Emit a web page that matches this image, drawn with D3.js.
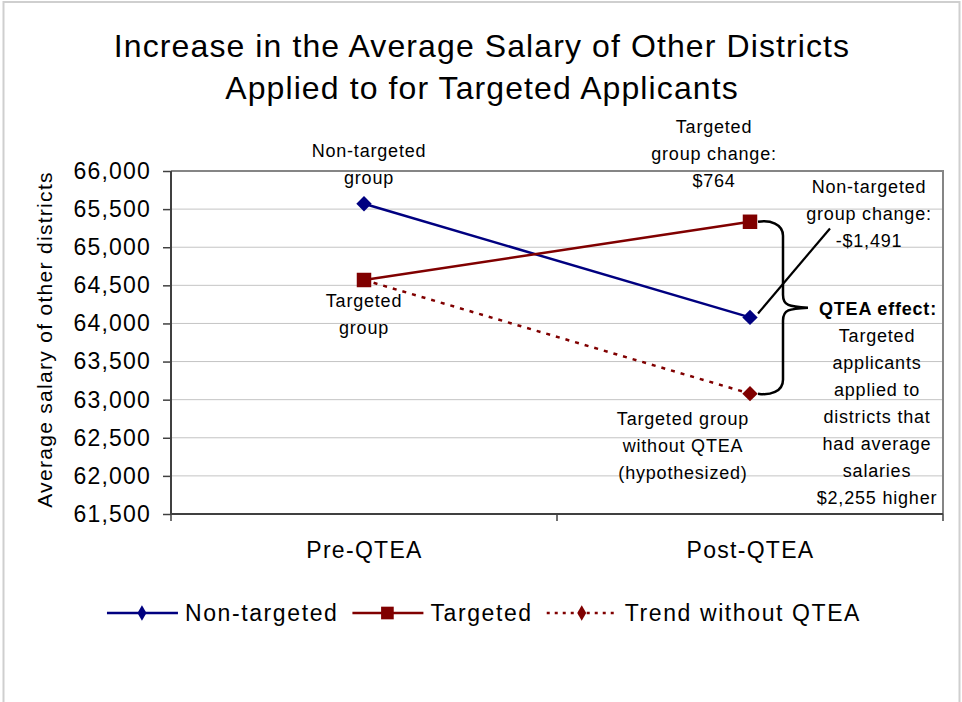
<!DOCTYPE html>
<html>
<head>
<meta charset="utf-8">
<script src="https://cdn.jsdelivr.net/npm/d3@7"></script>
<style>
    body { margin: 0; background: #fff; }
    svg text { font-family: "Liberation Sans", Arial, sans-serif; fill: #000; }
</style>
</head>
<body>
<div id="graph"></div>
<script>
// chart data
var categories = ["Pre-QTEA", "Post-QTEA"];
var nonTargeted = [65570, 64079];
var targeted = [64570, 65334];
var trendWithoutQTEA = [64570, 63079];
var yTickValues = [61500, 62000, 62500, 63000, 63500, 64000, 64500, 65000, 65500, 66000];
var seriesNames = ["Non-targeted", "Targeted", "Trend without QTEA"];

var titleLines = ["Increase in the Average Salary of Other Districts", "Applied to for Targeted Applicants"];
var yAxisTitle = "Average salary of other districts";
var nonTargetedLabel = ["Non-targeted", "group"];
var targetedLabel = ["Targeted", "group"];
var targetedChangeLabel = ["Targeted", "group change:", "$764"];
var nonTargetedChangeLabel = ["Non-targeted", "group change:", "-$1,491"];
var trendLabel = ["Targeted group", "without QTEA", "(hypothesized)"];
var effectHeading = "QTEA effect:";
var effectLines = ["Targeted", "applicants", "applied to", "districts that", "had average", "salaries", "$2,255 higher"];

var navy = "#000080";
var maroon = "#800000";

let svgWidth = 962;
let svgHeight = 702;
let plotLeft = 171, plotRight = 943, plotTop = 171, plotBottom = 514;
let annoSize = 18, annoSpacing = 0.8, lineStep = 27;

let xBand = d3.scaleBand()
    .domain(categories)
    .range([plotLeft, plotRight]);

let xScale = d3.scalePoint()
    .domain(categories)
    .range([plotLeft, plotRight])
    .padding(0.5);

let yScale = d3.scaleLinear()
    .domain([d3.min(yTickValues), d3.max(yTickValues)])
    .range([plotBottom, plotTop]);

let svg = d3.select("#graph")
    .append("svg")
    .attr("width", svgWidth)
    .attr("height", svgHeight);

// outer chart frame
svg.append("rect")
    .attr("x", 3.5).attr("y", 2)
    .attr("width", 956).attr("height", 720)
    .attr("fill", "none")
    .attr("stroke", "#cfcfcf")
    .attr("stroke-width", 2);

// title
svg.append("text")
    .attr("text-anchor", "middle")
    .attr("font-size", 32)
    .attr("letter-spacing", 1.1)
    .selectAll("tspan")
    .data(titleLines)
    .enter()
    .append("tspan")
    .attr("x", 482)
    .attr("y", (d, i) => 57 + i * 42)
    .text(d => d);

// gridlines
svg.append("g")
    .selectAll("line")
    .data(yTickValues.filter(d => d > yScale.domain()[0]))
    .enter()
    .append("line")
    .attr("x1", plotLeft).attr("x2", plotRight)
    .attr("y1", d => yScale(d)).attr("y2", d => yScale(d))
    .attr("stroke", "#c4c4c4")
    .attr("stroke-width", 1);

// plot border (top + right)
svg.append("path")
    .attr("d", "M" + plotLeft + "," + plotTop + "H" + plotRight + "V" + plotBottom)
    .attr("fill", "none")
    .attr("stroke", "#858585")
    .attr("stroke-width", 2);

// y axis
let yAxis = d3.axisLeft(yScale)
    .tickValues(yTickValues)
    .tickSize(8)
    .tickPadding(12)
    .tickFormat(d3.format(","));

let yg = svg.append("g")
    .attr("transform", "translate(" + plotLeft + ",0)")
    .call(yAxis);
yg.attr("font-family", null).attr("font-size", 23);
yg.select(".domain").remove();
yg.selectAll(".tick line").attr("stroke", "#404040").attr("stroke-width", 1.5);
yg.selectAll(".tick text").attr("letter-spacing", 1.2).attr("fill", "#000");

// x axis labels
let xAxis = d3.axisBottom(xScale)
    .tickSize(0)
    .tickPadding(28);

let xg = svg.append("g")
    .attr("transform", "translate(0," + plotBottom + ")")
    .call(xAxis);
xg.attr("font-family", null).attr("font-size", 23);
xg.select(".domain").remove();
xg.selectAll(".tick text").attr("letter-spacing", 1.3).attr("fill", "#000");

// category boundary ticks
let bounds = categories.map(c => xBand(c)).concat([xBand.range()[1]]);
svg.append("g")
    .selectAll("line")
    .data(bounds)
    .enter()
    .append("line")
    .attr("x1", d => d).attr("x2", d => d)
    .attr("y1", plotBottom).attr("y2", plotBottom + 7)
    .attr("stroke", "#404040")
    .attr("stroke-width", 1.5);

// axis lines
svg.append("path")
    .attr("d", "M" + plotLeft + "," + plotTop + "V" + plotBottom + "H" + plotRight)
    .attr("fill", "none")
    .attr("stroke", "#404040")
    .attr("stroke-width", 2);

// y axis title
svg.append("text")
    .attr("transform", "translate(52," + ((plotTop + plotBottom) / 2 - 3) + ") rotate(-90)")
    .attr("text-anchor", "middle")
    .attr("font-size", 21)
    .attr("letter-spacing", 1.3)
    .text(yAxisTitle);

// series lines
let line = d3.line()
    .x((d, i) => xScale(categories[i]))
    .y(d => yScale(d));

svg.append("path")
    .datum(trendWithoutQTEA)
    .attr("d", line)
    .attr("fill", "none")
    .attr("stroke", maroon)
    .attr("stroke-width", 2.5)
    .attr("stroke-dasharray", "4,6");

svg.append("path")
    .datum(nonTargeted)
    .attr("d", line)
    .attr("fill", "none")
    .attr("stroke", navy)
    .attr("stroke-width", 2.5);

svg.append("path")
    .datum(targeted)
    .attr("d", line)
    .attr("fill", "none")
    .attr("stroke", maroon)
    .attr("stroke-width", 2.5);

// markers
let diamond = d3.symbol().type(d3.symbolSquare).size(118);
let square = d3.symbol().type(d3.symbolSquare).size(210);

svg.append("g")
    .selectAll("path")
    .data(trendWithoutQTEA.slice(1))
    .enter()
    .append("path")
    .attr("d", diamond)
    .attr("transform", d => "translate(" + xScale(categories[1]) + "," + yScale(d) + ") rotate(45)")
    .attr("fill", maroon);

svg.append("g")
    .selectAll("path")
    .data(nonTargeted)
    .enter()
    .append("path")
    .attr("d", diamond)
    .attr("transform", (d, i) => "translate(" + xScale(categories[i]) + "," + yScale(d) + ") rotate(45)")
    .attr("fill", navy);

svg.append("g")
    .selectAll("path")
    .data(targeted)
    .enter()
    .append("path")
    .attr("d", square)
    .attr("transform", (d, i) => "translate(" + xScale(categories[i]) + "," + yScale(d) + ")")
    .attr("fill", maroon);

// annotation helper
function addLabel(lines, x, y, bold) {
    let t = svg.append("text")
        .attr("text-anchor", "middle")
        .attr("font-size", annoSize)
        .attr("letter-spacing", annoSpacing)
        .attr("font-weight", bold ? "bold" : null);
    t.selectAll("tspan")
        .data(lines)
        .enter()
        .append("tspan")
        .attr("x", x)
        .attr("y", (d, i) => y + i * lineStep)
        .text(d => d);
}

let preX = xScale(categories[0]);
let postX = xScale(categories[1]);

addLabel(nonTargetedLabel, preX + 5, yScale(nonTargeted[0]) - 47);
addLabel(targetedLabel, preX, yScale(targeted[0]) + 27);
addLabel(targetedChangeLabel, postX - 36, 133);
addLabel(nonTargetedChangeLabel, postX + 119, 193);
addLabel(trendLabel, postX - 67, yScale(trendWithoutQTEA[1]) + 31);

let braceTop = yScale(targeted[1]);
let braceBot = yScale(trendWithoutQTEA[1]);
let braceMid = (braceTop + braceBot) / 2;

addLabel([effectHeading], postX + 128, braceMid + 7, true);
addLabel(effectLines, postX + 127, braceMid + 34);

// leader line to non-targeted change label
svg.append("line")
    .attr("x1", postX + 8).attr("y1", yScale(nonTargeted[1]) - 4)
    .attr("x2", postX + 80).attr("y2", yScale(nonTargeted[1]) - 89)
    .attr("stroke", "#000")
    .attr("stroke-width", 2.2);

// curly brace between targeted and trend
let bx0 = postX + 8, bx = postX + 33, bt = postX + 58;
let brace = "M" + bx0 + "," + braceTop +
    "C" + (bx0 + 12) + "," + (braceTop - 2) + " " + bx + "," + (braceTop + 2) + " " + bx + "," + (braceTop + 14) +
    "L" + bx + "," + (braceMid - 13) +
    "C" + bx + "," + (braceMid - 2) + " " + (bx + 6) + "," + (braceMid - 1) + " " + bt + "," + braceMid +
    "M" + bx0 + "," + braceBot +
    "C" + (bx0 + 12) + "," + (braceBot + 2) + " " + bx + "," + (braceBot - 2) + " " + bx + "," + (braceBot - 14) +
    "L" + bx + "," + (braceMid + 13) +
    "C" + bx + "," + (braceMid + 2) + " " + (bx + 6) + "," + (braceMid + 1) + " " + bt + "," + braceMid;

svg.append("path")
    .attr("d", brace)
    .attr("fill", "none")
    .attr("stroke", "#000")
    .attr("stroke-width", 2.5);

// legend
let legendY = 613;
let legendStyles = [
    { color: navy, dash: null, sym: d3.symbol().type(d3.symbolDiamond).size(70) },
    { color: maroon, dash: null, sym: d3.symbol().type(d3.symbolSquare).size(160) },
    { color: maroon, dash: "3,5", sym: d3.symbol().type(d3.symbolDiamond).size(70) }
];

let legend = svg.append("g");
let cursor = 0;
seriesNames.forEach((name, i) => {
    let st = legendStyles[i];
    let item = legend.append("g").attr("transform", "translate(" + cursor + ",0)");
    item.append("line")
        .attr("x1", 0).attr("x2", 71)
        .attr("y1", legendY).attr("y2", legendY)
        .attr("stroke", st.color)
        .attr("stroke-width", 2.5)
        .attr("stroke-dasharray", st.dash);
    item.append("path")
        .attr("d", st.sym)
        .attr("transform", "translate(35," + legendY + ")")
        .attr("fill", st.color);
    let txt = item.append("text")
        .attr("x", 78)
        .attr("y", legendY + 8)
        .attr("font-size", 23)
        .attr("letter-spacing", 1.6)
        .text(name);
    cursor += 78 + txt.node().getComputedTextLength() + 14;
});
legend.attr("transform", "translate(" + (484 - (cursor - 14) / 2) + ",0)");
</script>
</body>
</html>
